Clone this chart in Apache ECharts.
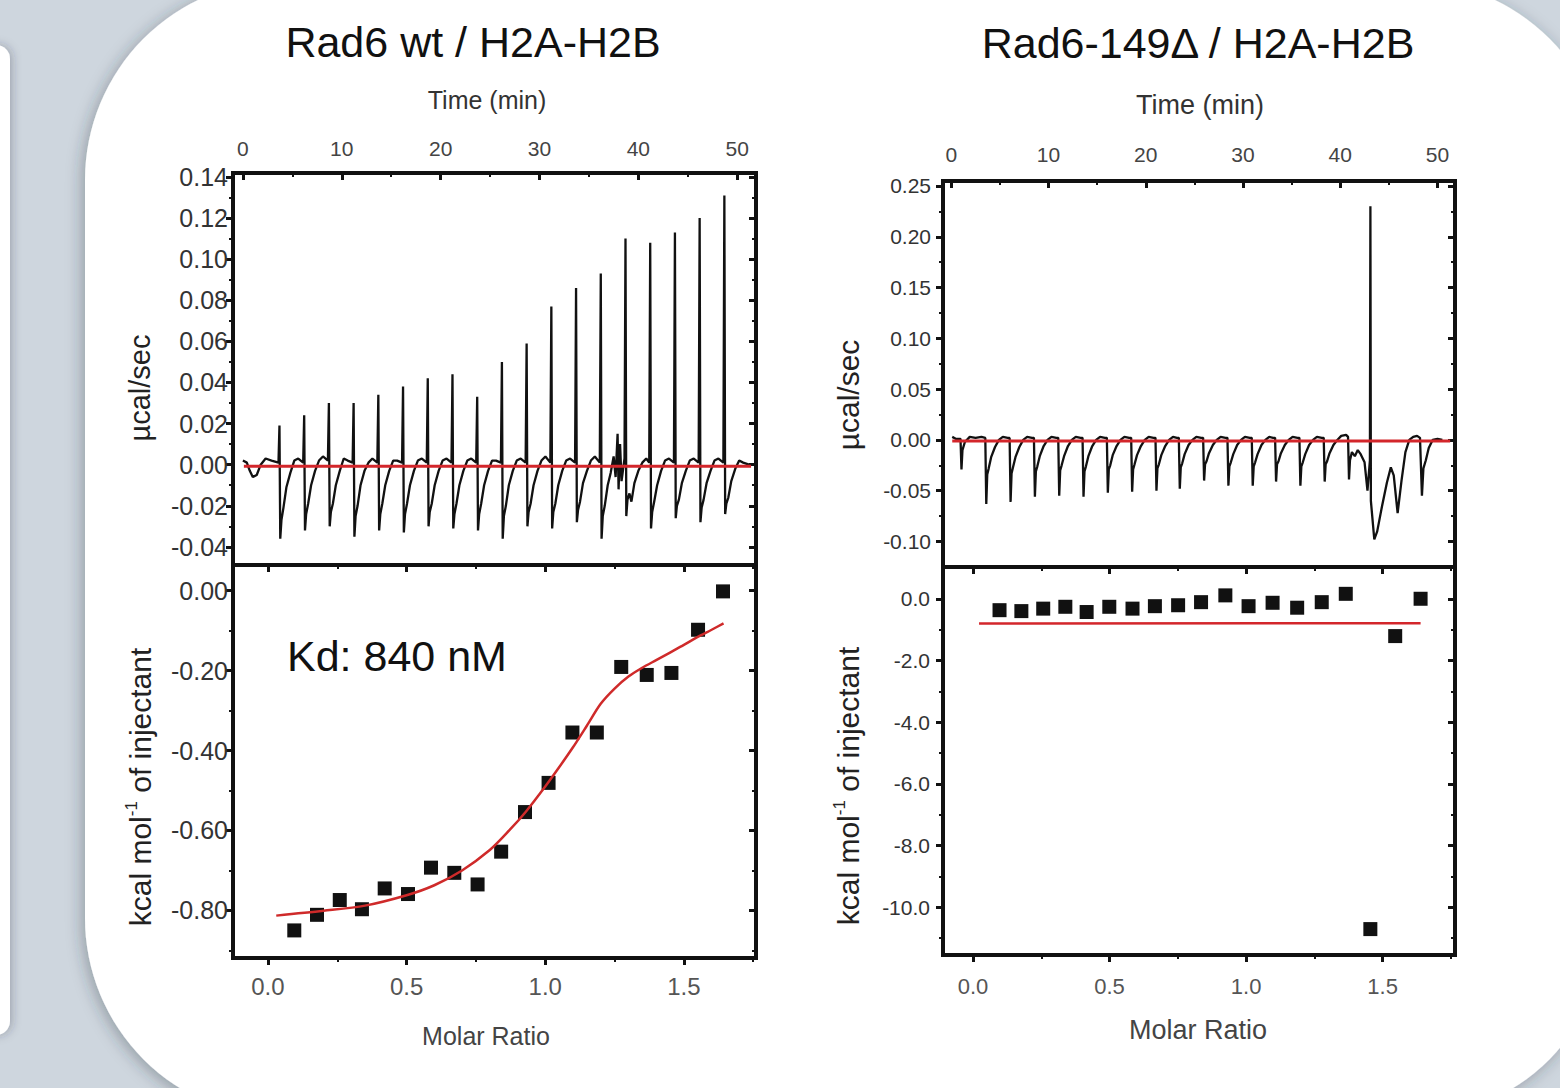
<!DOCTYPE html>
<html>
<head>
<meta charset="utf-8">
<title>ITC – Rad6 wt vs Rad6-149Δ</title>
<script src="https://cdn.jsdelivr.net/npm/echarts@6/dist/echarts.min.js"></script>
<style>
  html, body { margin: 0; padding: 0; background: #ced6de; }
  #chart { width: 1560px; height: 1088px; }
</style>
</head>
<body>
<div id="chart"></div>
<script>
// ---- tick values ----
var timeTicks = [0, 10, 20, 30, 40, 50];
var timeMinor = [5, 15, 25, 35, 45];
var ratioTicks = [0, 0.5, 1.0, 1.5];
var ratioMinor = [0.25, 0.75, 1.25, 1.75];
var wtPowerTicks = [-0.04, -0.02, 0, 0.02, 0.04, 0.06, 0.08, 0.10, 0.12, 0.14];
var wtPowerMinor = [-0.03, -0.01, 0.01, 0.03, 0.05, 0.07, 0.09, 0.11, 0.13];
var wtHeatTicks = [0, -0.2, -0.4, -0.6, -0.8];
var wtHeatMinor = [-0.1, -0.3, -0.5, -0.7, -0.9];
var dPowerTicks = [-0.10, -0.05, 0, 0.05, 0.10, 0.15, 0.20, 0.25];
var dPowerMinor = [-0.075, -0.025, 0.025, 0.075, 0.125, 0.175, 0.225];
var dHeatTicks = [0, -2, -4, -6, -8, -10];
var dHeatMinor = [-1, -3, -5, -7, -9, -11];

// ---- Rad6 wt / H2A-H2B : raw thermogram (min, µcal/sec) ----
var wtTrace = [
  [0.0,0.002],[0.4,0.001],[0.7,-0.003],[1.0,-0.006],[1.4,-0.005],[1.8,0.000],[2.3,0.003],[2.9,0.002],[3.6,0.001],
  [3.7,0.019],[3.78,-0.036],[3.9,-0.027],[4.1,-0.021],[4.4,-0.011],[4.8,-0.004],[5.2,0.002],[5.6,0.003],[6.1,0.001],
  [6.2,0.024],[6.28,-0.032],[6.4,-0.024],[6.6,-0.019],[6.9,-0.010],[7.3,-0.003],[7.7,0.002],[8.1,0.004],[8.6,0.002],
  [8.7,0.030],[8.78,-0.030],[8.9,-0.023],[9.1,-0.019],[9.4,-0.010],[9.8,-0.003],[10.2,0.003],[10.6,0.002],[11.1,0.001],
  [11.2,0.030],[11.28,-0.035],[11.4,-0.025],[11.6,-0.020],[11.9,-0.010],[12.3,-0.003],[12.7,0.001],[13.1,0.003],[13.6,0.001],
  [13.7,0.034],[13.78,-0.032],[13.9,-0.024],[14.1,-0.019],[14.4,-0.010],[14.8,-0.003],[15.2,0.002],[15.6,0.002],[16.1,0.001],
  [16.2,0.038],[16.28,-0.033],[16.4,-0.024],[16.6,-0.019],[16.9,-0.010],[17.3,-0.003],[17.7,0.002],[18.1,0.003],[18.6,0.001],
  [18.7,0.042],[18.78,-0.030],[18.9,-0.023],[19.1,-0.019],[19.4,-0.010],[19.8,-0.003],[20.2,0.002],[20.6,0.003],[21.1,0.001],
  [21.2,0.044],[21.28,-0.031],[21.4,-0.024],[21.6,-0.019],[21.9,-0.010],[22.3,-0.003],[22.7,0.002],[23.1,0.003],[23.6,0.001],
  [23.7,0.033],[23.78,-0.032],[23.9,-0.024],[24.1,-0.019],[24.4,-0.010],[24.8,-0.003],[25.2,0.002],[25.6,0.002],[26.1,0.001],
  [26.2,0.050],[26.28,-0.036],[26.4,-0.025],[26.6,-0.020],[26.9,-0.010],[27.3,-0.003],[27.7,0.002],[28.1,0.003],[28.6,0.001],
  [28.7,0.059],[28.78,-0.030],[28.9,-0.023],[29.1,-0.019],[29.4,-0.010],[29.8,-0.003],[30.2,0.002],[30.6,0.004],[31.1,0.001],
  [31.2,0.077],[31.28,-0.031],[31.4,-0.023],[31.6,-0.019],[31.9,-0.010],[32.3,-0.003],[32.7,0.002],[33.1,0.003],[33.6,0.001],
  [33.7,0.086],[33.78,-0.028],[33.9,-0.022],[34.1,-0.018],[34.4,-0.009],[34.8,-0.003],[35.2,0.002],[35.6,0.004],[36.1,0.001],
  [36.2,0.093],[36.28,-0.036],[36.4,-0.025],[36.6,-0.020],[36.9,-0.010],[37.2,-0.004],[37.5,0.004],[37.7,-0.006],[37.9,0.015],[38.0,-0.012],[38.15,0.010],[38.3,-0.008],[38.6,0.003],
  [38.7,0.110],[38.78,-0.025],[38.9,-0.017],[39.1,-0.014],[39.3,-0.018],[39.6,-0.009],[40.0,-0.003],[40.4,0.001],[40.8,0.003],[41.1,0.001],
  [41.2,0.108],[41.28,-0.031],[41.4,-0.023],[41.6,-0.018],[41.9,-0.010],[42.3,-0.003],[42.7,0.002],[43.1,0.003],[43.6,0.001],
  [43.7,0.113],[43.78,-0.026],[43.9,-0.020],[44.1,-0.017],[44.4,-0.009],[44.8,-0.003],[45.2,0.002],[45.6,0.003],[46.1,0.001],
  [46.2,0.120],[46.28,-0.028],[46.4,-0.021],[46.6,-0.017],[46.9,-0.009],[47.3,-0.003],[47.7,0.002],[48.1,0.003],[48.6,0.001],
  [48.7,0.131],[48.78,-0.024],[48.9,-0.019],[49.1,-0.016],[49.4,-0.008],[49.8,-0.002],[50.2,0.002],[50.6,0.001],[51.2,0.000]
];
var wtBaseline = [[0.1, -0.0008], [51.4, -0.0008]];

// ---- Rad6 wt : integrated heats ----
var wtRatio = [0.095, 0.177, 0.259, 0.339, 0.421, 0.505, 0.588, 0.672, 0.756, 0.841, 0.927, 1.012, 1.098, 1.186, 1.274, 1.366, 1.455, 1.551, 1.641];
var wtHeat = [-0.850, -0.811, -0.774, -0.797, -0.745, -0.759, -0.693, -0.706, -0.735, -0.653, -0.554, -0.481, -0.355, -0.355, -0.191, -0.211, -0.206, -0.098, -0.002];
var wtFitRatio = [0.03, 0.20, 0.35, 0.50, 0.60, 0.70, 0.80, 0.87, 0.93, 1.00, 1.05, 1.10, 1.15, 1.20, 1.25, 1.30, 1.35, 1.40, 1.45, 1.50, 1.55, 1.60, 1.643];
var wtFitHeat = [-0.813, -0.801, -0.788, -0.762, -0.737, -0.700, -0.649, -0.600, -0.553, -0.490, -0.442, -0.392, -0.338, -0.283, -0.245, -0.215, -0.193, -0.174, -0.155, -0.136, -0.116, -0.098, -0.082];

// ---- Rad6-149Δ / H2A-H2B : raw thermogram ----
var dTrace = [
  [0.1,0.003],[0.5,0.001],[0.95,0.001],[1.05,-0.029],[1.15,-0.010],[1.4,-0.002],[1.9,0.003],[2.5,0.002],[3.1,0.003],[3.5,0.002],
  [3.6,-0.063],[3.7,-0.034],[3.85,-0.028],[4.1,-0.017],[4.5,-0.007],[4.9,0.000],[5.3,0.003],[5.8,0.002],[6.0,0.002],
  [6.1,-0.061],[6.2,-0.033],[6.35,-0.027],[6.6,-0.017],[7.0,-0.007],[7.4,0.000],[7.8,0.003],[8.3,0.002],[8.5,0.002],
  [8.6,-0.056],[8.7,-0.031],[8.85,-0.026],[9.1,-0.016],[9.5,-0.006],[9.9,0.000],[10.3,0.003],[10.8,0.002],[11.0,0.002],
  [11.1,-0.055],[11.2,-0.030],[11.35,-0.025],[11.6,-0.016],[12.0,-0.006],[12.4,0.000],[12.8,0.003],[13.3,0.002],[13.5,0.002],
  [13.6,-0.056],[13.7,-0.031],[13.85,-0.026],[14.1,-0.016],[14.5,-0.006],[14.9,0.000],[15.3,0.003],[15.8,0.002],[16.0,0.002],
  [16.1,-0.052],[16.2,-0.029],[16.35,-0.025],[16.6,-0.015],[17.0,-0.006],[17.4,0.000],[17.8,0.003],[18.3,0.002],[18.5,0.002],
  [18.6,-0.051],[18.7,-0.029],[18.85,-0.024],[19.1,-0.015],[19.5,-0.006],[19.9,0.000],[20.3,0.003],[20.8,0.002],[21.0,0.002],
  [21.1,-0.050],[21.2,-0.028],[21.35,-0.024],[21.6,-0.015],[22.0,-0.006],[22.4,0.000],[22.8,0.003],[23.2,0.002],[23.4,0.002],
  [23.5,-0.048],[23.6,-0.027],[23.75,-0.023],[24.0,-0.014],[24.4,-0.005],[24.8,0.000],[25.2,0.003],[25.7,0.002],[25.9,0.002],
  [26.0,-0.040],[26.1,-0.024],[26.25,-0.021],[26.5,-0.013],[26.9,-0.005],[27.3,0.000],[27.7,0.003],[28.2,0.002],[28.4,0.002],
  [28.5,-0.045],[28.6,-0.026],[28.75,-0.022],[29.0,-0.014],[29.4,-0.005],[29.8,0.000],[30.2,0.003],[30.7,0.002],[30.9,0.002],
  [31.0,-0.045],[31.1,-0.026],[31.25,-0.022],[31.5,-0.014],[31.9,-0.005],[32.3,0.000],[32.7,0.003],[33.1,0.002],[33.3,0.002],
  [33.4,-0.041],[33.5,-0.024],[33.65,-0.021],[33.9,-0.013],[34.3,-0.005],[34.7,0.000],[35.1,0.003],[35.6,0.002],[35.8,0.002],
  [35.9,-0.045],[36.0,-0.026],[36.15,-0.022],[36.4,-0.014],[36.8,-0.005],[37.2,0.000],[37.6,0.003],[38.1,0.002],[38.3,0.002],
  [38.4,-0.041],[38.5,-0.024],[38.65,-0.021],[38.9,-0.013],[39.3,-0.005],[39.7,0.000],[40.1,0.004],[40.6,0.005],[40.8,0.003],
  [40.9,-0.039],[41.0,-0.020],[41.2,-0.012],[41.5,-0.016],[41.8,-0.010],[42.1,-0.014],[42.5,-0.022],[42.8,-0.050],[43.05,-0.020],
  [43.1,0.230],[43.15,-0.060],[43.5,-0.098],[43.8,-0.090],[44.3,-0.065],[44.8,-0.042],[45.2,-0.027],[45.5,-0.035],
  [45.9,-0.072],[46.3,-0.040],[46.7,-0.012],[47.1,0.000],[47.5,0.003],[47.9,0.004],[48.2,0.002],
  [48.4,-0.055],[48.55,-0.028],[48.8,-0.020],[49.1,-0.008],[49.5,0.000],[50.0,0.001],[50.5,0.000]
];
var dBaseline = [[0.1, -0.001], [51.3, -0.001]];

// ---- Rad6-149Δ : integrated heats ----
var dRatio = [0.097, 0.177, 0.257, 0.338, 0.416, 0.499, 0.584, 0.666, 0.751, 0.835, 0.924, 1.009, 1.097, 1.187, 1.277, 1.365, 1.455, 1.546, 1.639];
var dHeat = [-0.37, -0.40, -0.32, -0.26, -0.43, -0.26, -0.32, -0.24, -0.21, -0.11, 0.11, -0.24, -0.13, -0.29, -0.11, 0.16, -10.71, -1.21, 0.0];
var dFitRatio = [0.022, 1.639];
var dFitHeat = [-0.80, -0.79];

var FONT = 'Liberation Sans, Arial, Helvetica, sans-serif';

function pairs(xs, ys) {
    return xs.map(function (x, i) { return [x, ys[i]]; });
}

// one axis for major ticks (+labels), one for minor ticks, both on the same frame edge
function tickAxes(list, grid, pos, min, max, major, minor, inside, label) {
    var base = {
        type: 'value', gridIndex: grid, position: pos, min: min, max: max,
        axisLine: { show: false, onZero: false }, splitLine: { show: false }
    };
    var first = list.length;
    list.push(Object.assign({}, base, {
        axisTick: { show: true, inside: inside, length: 7, customValues: major, lineStyle: { color: '#111', width: 3 } },
        axisLabel: label ? Object.assign({ show: true, customValues: major, fontFamily: FONT }, label) : { show: false }
    }));
    list.push(Object.assign({}, base, {
        axisTick: { show: true, inside: inside, length: 4, customValues: minor, lineStyle: { color: '#111', width: 2 } },
        axisLabel: { show: false }
    }));
    return first;
}

var xAxes = [], yAxes = [];
var fix2 = function (v) { return v.toFixed(2); };
var fix1 = function (v) { return v.toFixed(1); };

// grid 0: wt thermogram
var x0 = tickAxes(xAxes, 0, 'top', -1.0, 51.9, timeTicks, timeMinor, true, { fontSize: 21, color: '#444', margin: 14 });
var y0 = tickAxes(yAxes, 0, 'left', -0.0488, 0.1419, wtPowerTicks, wtPowerMinor, false, { fontSize: 25, color: '#333', margin: 5, formatter: fix2 });
tickAxes(yAxes, 0, 'right', -0.0488, 0.1419, wtPowerTicks, wtPowerMinor, true, null);
// grid 1: wt isotherm
var x1 = tickAxes(xAxes, 1, 'bottom', -0.126, 1.760, ratioTicks, ratioMinor, false, { fontSize: 24, color: '#555', margin: 16, formatter: fix1 });
tickAxes(xAxes, 1, 'top', -0.126, 1.760, ratioTicks, ratioMinor, true, null);
var y1 = tickAxes(yAxes, 1, 'left', -0.919, 0.064, wtHeatTicks, wtHeatMinor, false, { fontSize: 25, color: '#333', margin: 5, formatter: fix2 });
tickAxes(yAxes, 1, 'right', -0.919, 0.064, wtHeatTicks, wtHeatMinor, true, null);
// grid 2: 149Δ thermogram
var x2 = tickAxes(xAxes, 2, 'top', -0.85, 51.8, timeTicks, timeMinor, true, { fontSize: 21, color: '#444', margin: 16 });
var y2 = tickAxes(yAxes, 2, 'left', -0.1251, 0.2549, dPowerTicks, dPowerMinor, false, { fontSize: 21, color: '#333', margin: 12, formatter: fix2 });
tickAxes(yAxes, 2, 'right', -0.1251, 0.2549, dPowerTicks, dPowerMinor, true, null);
// grid 3: 149Δ isotherm
var x3 = tickAxes(xAxes, 3, 'bottom', -0.11, 1.765, ratioTicks, ratioMinor, false, { fontSize: 22, color: '#555', margin: 20, formatter: fix1 });
tickAxes(xAxes, 3, 'top', -0.11, 1.765, ratioTicks, ratioMinor, true, null);
var y3 = tickAxes(yAxes, 3, 'left', -11.55, 1.03, dHeatTicks, dHeatMinor, false, { fontSize: 21, color: '#333', margin: 13, formatter: fix1 });
tickAxes(yAxes, 3, 'right', -11.55, 1.03, dHeatTicks, dHeatMinor, true, null);

function frame(left, top, width, height) {
    return {
        left: left, top: top, width: width, height: height,
        show: true, borderColor: '#111', borderWidth: 4, backgroundColor: 'transparent',
        outerBoundsMode: 'none', containLabel: false
    };
}

function text(str, x, y, size, color, extra) {
    var el = {
        type: 'text', x: x, y: y, z: 100,
        style: { text: str, fontSize: size, fontFamily: FONT, fill: color, align: 'center', verticalAlign: 'middle' }
    };
    if (extra) {
        if (extra.rotation) el.rotation = extra.rotation;
        if (extra.style) Object.assign(el.style, extra.style);
    }
    return el;
}

var supRich = { sup: { fontSize: 17, fontFamily: FONT, fill: '#222', verticalAlign: 'top', lineHeight: 34 } };
var up = Math.PI / 2;

var chart = echarts.init(document.getElementById('chart'), null, { renderer: 'svg' });
chart.setOption({
    animation: false,
    backgroundColor: '#ced6de',
    grid: [
        frame(233, 173, 523, 392),
        frame(233, 565, 523, 393),
        frame(943, 181, 512, 386),
        frame(943, 567, 512, 388)
    ],
    xAxis: xAxes,
    yAxis: yAxes,
    graphic: [
        // page panels
        { type: 'rect', z: -20, shape: { x: -30, y: 45, width: 40, height: 990, r: 14 },
          style: { fill: '#fff', shadowBlur: 10, shadowColor: 'rgba(40,50,60,0.30)', shadowOffsetX: 2 } },
        { type: 'rect', z: -20, shape: { x: 85, y: -20, width: 1523, height: 1138, r: 200 },
          style: { fill: '#fff', shadowBlur: 16, shadowColor: 'rgba(40,50,60,0.35)', shadowOffsetX: -3, shadowOffsetY: 3 } },
        // titles and axis names
        text('Rad6 wt / H2A-H2B', 473, 42, 43, '#111'),
        text('Rad6-149Δ / H2A-H2B', 1198, 43, 43, '#111'),
        text('Time (min)', 487, 100, 25, '#333'),
        text('Time (min)', 1200, 105, 27, '#333'),
        text('Molar Ratio', 486, 1036, 25, '#444'),
        text('Molar Ratio', 1198, 1030, 27, '#444'),
        text('µcal/sec', 140, 388, 29, '#222', { rotation: up }),
        text('µcal/sec', 848, 395, 30, '#222', { rotation: up }),
        text('kcal mol{sup|-1} of injectant', 140, 787, 30, '#222', { rotation: up, style: { rich: supRich, lineHeight: 34 } }),
        text('kcal mol{sup|-1} of injectant', 848, 786, 30, '#222', { rotation: up, style: { rich: supRich, lineHeight: 34 } }),
        text('Kd: 840 nM', 287, 656, 43, '#111', { style: { align: 'left' } })
    ],
    series: [
        { type: 'line', xAxisIndex: x0, yAxisIndex: y0, data: wtTrace, symbol: 'none',
          lineStyle: { color: '#111', width: 2.3 }, z: 3 },
        { type: 'line', xAxisIndex: x0, yAxisIndex: y0, data: wtBaseline, symbol: 'none',
          lineStyle: { color: '#d3262b', width: 3 }, z: 4 },
        { type: 'scatter', xAxisIndex: x1, yAxisIndex: y1, data: pairs(wtRatio, wtHeat), symbol: 'rect',
          symbolSize: 14, itemStyle: { color: '#111', opacity: 1 }, z: 3 },
        { type: 'line', xAxisIndex: x1, yAxisIndex: y1, data: pairs(wtFitRatio, wtFitHeat), symbol: 'none',
          smooth: 0.3, lineStyle: { color: '#cf2a2a', width: 2.5 }, z: 4 },
        { type: 'line', xAxisIndex: x2, yAxisIndex: y2, data: dTrace, symbol: 'none',
          lineStyle: { color: '#111', width: 2.3 }, z: 3 },
        { type: 'line', xAxisIndex: x2, yAxisIndex: y2, data: dBaseline, symbol: 'none',
          lineStyle: { color: '#d3262b', width: 3 }, z: 4 },
        { type: 'scatter', xAxisIndex: x3, yAxisIndex: y3, data: pairs(dRatio, dHeat), symbol: 'rect',
          symbolSize: 14, itemStyle: { color: '#111', opacity: 1 }, z: 3 },
        { type: 'line', xAxisIndex: x3, yAxisIndex: y3, data: pairs(dFitRatio, dFitHeat), symbol: 'none',
          lineStyle: { color: '#d3262b', width: 2.5 }, z: 4 }
    ]
});

window.addEventListener('resize', function () { chart.resize(); });
</script>
</body>
</html>
